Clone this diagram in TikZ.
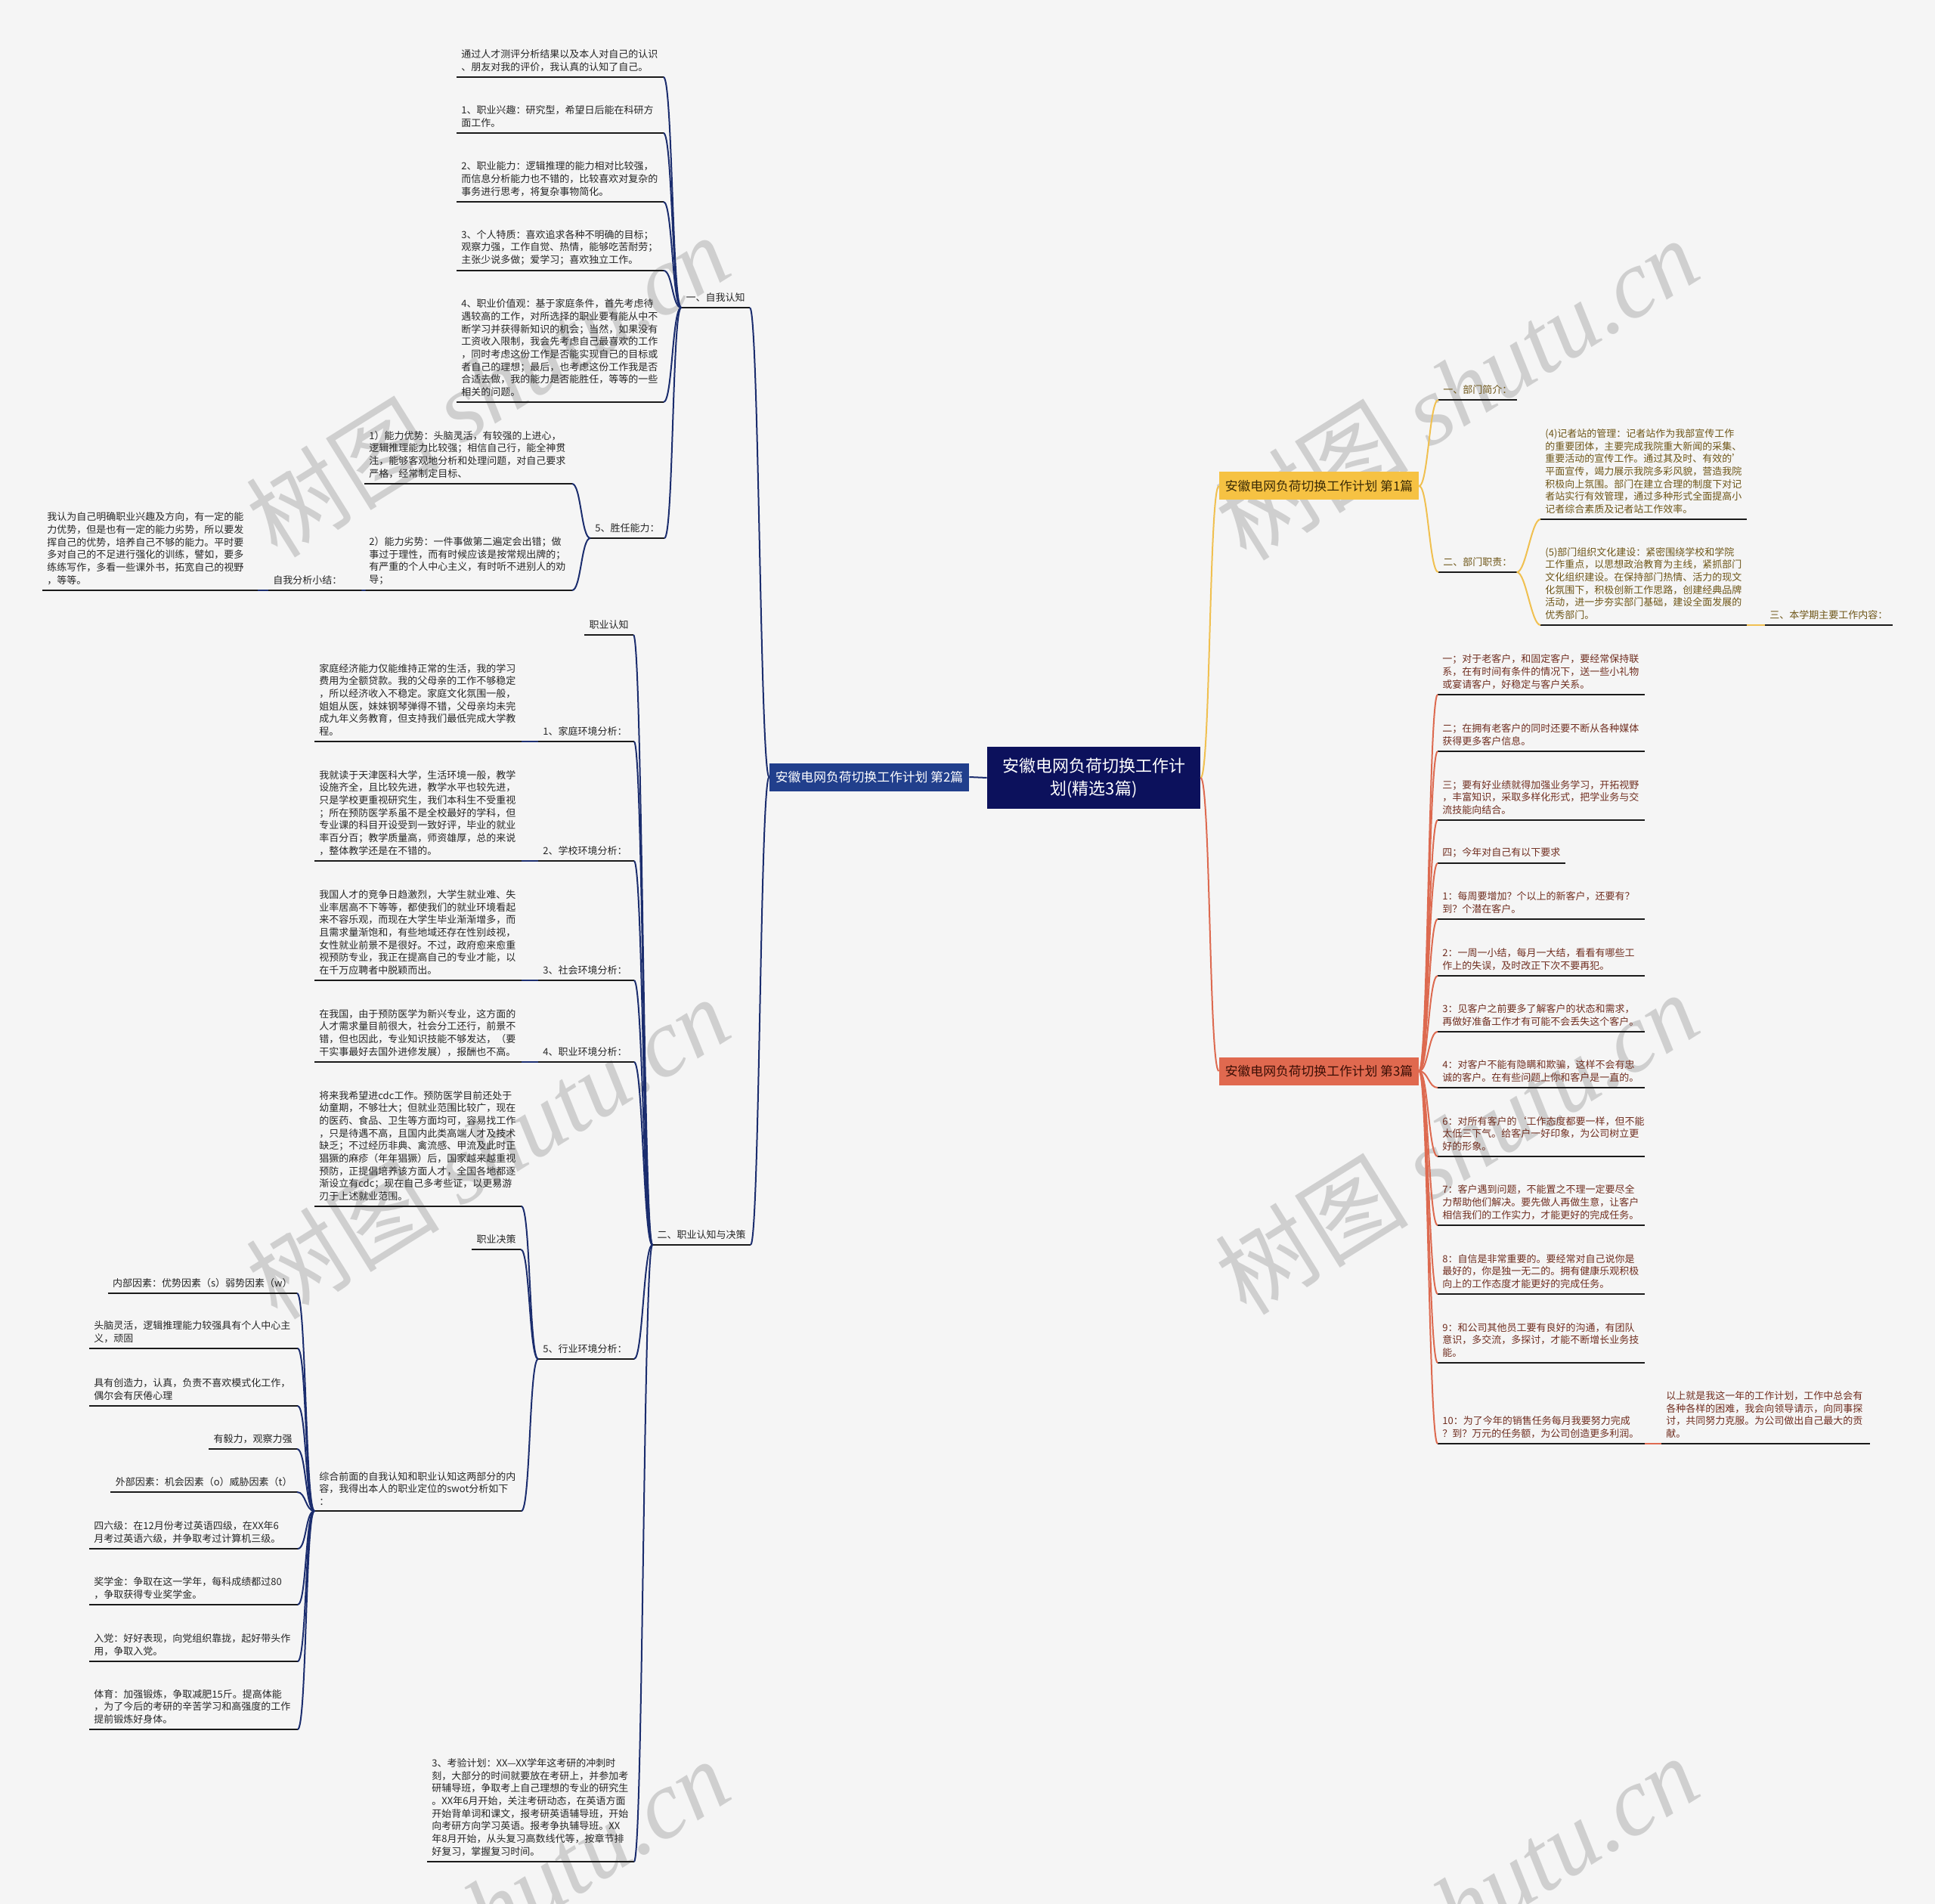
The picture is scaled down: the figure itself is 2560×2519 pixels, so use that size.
\documentclass[tikz,border=0pt]{standalone}
\usepackage{fontspec}
\setmainfont{Noto Sans CJK SC}
\newfontfamily\wmlatin{Liberation Serif}
\usetikzlibrary{calc}
\definecolor{bgc}{HTML}{F5F5F5}
\definecolor{ctr}{HTML}{0C115C}
\definecolor{blu}{HTML}{213F8C}
\definecolor{yelf}{HTML}{F6C243}
\definecolor{redf}{HTML}{E0694F}
\definecolor{navyl}{HTML}{1B2D6E}
\definecolor{yell}{HTML}{F0C050}
\definecolor{redl}{HTML}{DD6A50}
\definecolor{ulc}{HTML}{1A1A1A}
\definecolor{ltxt}{HTML}{262626}
\definecolor{ytxt}{HTML}{6E5618}
\definecolor{rtxt}{HTML}{702E20}
\definecolor{ytxtd}{HTML}{3A2A05}
\definecolor{rtxtd}{HTML}{3A0E05}
\definecolor{wmc}{HTML}{CFCFCF}
\newcommand\smallfs{\fontsize{6.5pt}{8.33pt}\selectfont}
\newcommand\lconn[2]{\draw[nv] (#1.south west) .. controls ($(#1.south west)+(-12,0)$) and ($(#2.south east)+(12,0)$) .. (#2.south east);}
\newcommand\rconn[3]{\draw[#1] (#2) .. controls ($(#2)+(12,0)$) and ($(#3.south west)+(-12,0)$) .. (#3.south west);}
\begin{document}
\begin{tikzpicture}[x=0.5pt,y=-0.5pt,
  leaf/.style={anchor=south west, inner xsep=3pt, inner ysep=3.5pt, align=left, font=\smallfs, text=ltxt, text width=#1},
  leaf/.default=130.5pt,
  labr/.style={anchor=south east, inner xsep=3pt, inner ysep=3.5pt, font=\smallfs, text=ltxt},
  labl/.style={anchor=south west, inner xsep=3pt, inner ysep=3.5pt, font=\smallfs},
  ul/.style={draw=ulc, line width=1.3pt},
  nv/.style={draw=navyl, line width=1pt},
  yl/.style={draw=yell, line width=1pt},
  rl/.style={draw=redl, line width=1pt},
  branch/.style={minimum width=132pt, minimum height=18.5pt, inner sep=0pt, font=\fontsize{8.4pt}{10pt}\selectfont},
  centre/.style={fill=ctr, text=white, minimum width=141pt, minimum height=41pt, inner sep=0pt, align=center, font=\fontsize{11pt}{15pt}\selectfont},
  wm/.style={text=wmc, font=\fontsize{64pt}{64pt}\selectfont, rotate=32, inner sep=0pt}
]
\fill[bgc] (0,0) rectangle (2560,2519);
\useasboundingbox (0,0) rectangle (2560,2519);
% watermark
\begin{scope}
\clip (0,0) rectangle (2560,2519);
\foreach \wx/\wy in {645/510, 1927/514, 645/1518, 1927/1512, 645/2526, 1927/2522}
  \node[wm] at (\wx,\wy) {树图 {\wmlatin\itshape shutu.cn}};
\end{scope}

% centre and branches
\node[centre] (C) at (1447,1029) {安徽电网负荷切换工作计\\划(精选3篇)};
\node[branch, fill=blu, text=white] (B2) at (1150,1028) {安徽电网负荷切换工作计划 第2篇};
\node[branch, fill=yelf, text=ytxtd] (B1) at (1745,643) {安徽电网负荷切换工作计划 第1篇};
\node[branch, fill=redf, text=rtxtd] (B3) at (1745,1417) {安徽电网负荷切换工作计划 第3篇};

% ---- left: 一、自我认知
\node[labr] (A0) at (992,407) {一、自我认知};
\node[leaf] (A1) at (604,102) {通过人才测评分析结果以及本人对自己的认识\\、朋友对我的评价，我认真的认知了自己。};
\node[leaf] (A2) at (604,176) {1、职业兴趣：研究型，希望日后能在科研方\\面工作。};
\node[leaf] (A3) at (604,267) {2、职业能力：逻辑推理的能力相对比较强，\\而信息分析能力也不错的，比较喜欢对复杂的\\事务进行思考，将复杂事物简化。};
\node[leaf] (A4) at (604,358) {3、个人特质：喜欢追求各种不明确的目标；\\观察力强，工作自觉、热情，能够吃苦耐劳；\\主张少说多做；爱学习；喜欢独立工作。};
\node[leaf] (A5) at (604,532) {4、职业价值观：基于家庭条件，首先考虑待\\遇较高的工作，对所选择的职业要有能从中不\\断学习并获得新知识的机会；当然，如果没有\\工资收入限制，我会先考虑自己最喜欢的工作\\，同时考虑这份工作是否能实现自己的目标或\\者自己的理想；最后，也考虑这份工作我是否\\合适去做，我的能力是否能胜任，等等的一些\\相关的问题。};
\node[labr] (A6) at (879,712) {5、胜任能力：};
\node[leaf=131pt] (A6a) at (482,640) {1）能力优势：头脑灵活，有较强的上进心，\\逻辑推理能力比较强；相信自己行，能全神贯\\注，能够客观地分析和处理问题，对自己要求\\严格，经常制定目标、};
\node[leaf=131pt] (A6b) at (482,781) {2）能力劣势：一件事做第二遍定会出错；做\\事过于理性，而有时候应该是按常规出牌的；\\有严重的个人中心主义，有时听不进别人的劝\\导；};
\node[leaf=56pt] (A6c) at (355,781) {自我分析小结：};
\node[leaf=136pt] (A6d) at (56,781) {我认为自己明确职业兴趣及方向，有一定的能\\力优势，但是也有一定的能力劣势，所以要发\\挥自己的优势，培养自己不够的能力。平时要\\多对自己的不足进行强化的训练，譬如，要多\\练练写作，多看一些课外书，拓宽自己的视野\\，等等。};

% ---- left: 二、职业认知与决策
\node[labr] (B0) at (993,1647) {二、职业认知与决策};
\node[labr] (B1n) at (838,840) {职业认知};
\node[leaf=57pt] (B2n) at (712,981) {1、家庭环境分析：};
\node[leaf] (B2a) at (416,981) {家庭经济能力仅能维持正常的生活，我的学习\\费用为全额贷款。我的父母亲的工作不够稳定\\，所以经济收入不稳定。家庭文化氛围一般，\\姐姐从医，妹妹钢琴弹得不错，父母亲均未完\\成九年义务教育，但支持我们最低完成大学教\\程。};
\node[leaf=57pt] (B3n) at (712,1139) {2、学校环境分析：};
\node[leaf] (B3a) at (416,1139) {我就读于天津医科大学，生活环境一般，教学\\设施齐全，且比较先进，教学水平也较先进，\\只是学校更重视研究生，我们本科生不受重视\\；所在预防医学系虽不是全校最好的学科，但\\专业课的科目开设受到一致好评，毕业的就业\\率百分百；教学质量高，师资雄厚，总的来说\\，整体教学还是在不错的。};
\node[leaf=57pt] (B4n) at (712,1297) {3、社会环境分析：};
\node[leaf] (B4a) at (416,1297) {我国人才的竞争日趋激烈，大学生就业难、失\\业率居高不下等等，都使我们的就业环境看起\\来不容乐观，而现在大学生毕业渐渐增多，而\\且需求量渐饱和，有些地域还存在性别歧视，\\女性就业前景不是很好。不过，政府愈来愈重\\视预防专业，我正在提高自己的专业才能，以\\在千万应聘者中脱颖而出。};
\node[leaf=57pt] (B5n) at (712,1405) {4、职业环境分析：};
\node[leaf] (B5a) at (416,1405) {在我国，由于预防医学为新兴专业，这方面的\\人才需求量目前很大，社会分工还行，前景不\\错，但也因此，专业知识技能不够发达，（要\\干实事最好去国外进修发展），报酬也不高。};
\node[leaf=57pt] (B6n) at (712,1798) {5、行业环境分析：};
\node[leaf] (B6a) at (416,1596) {将来我希望进cdc工作。预防医学目前还处于\\幼童期，不够壮大；但就业范围比较广，现在\\的医药、食品、卫生等方面均可，容易找工作\\，只是待遇不高，且国内此类高端人才及技术\\缺乏；不过经历非典、禽流感、甲流及此时正\\猖獗的麻疹（年年猖獗）后，国家越来越重视\\预防，正提倡培养该方面人才，全国各地都逐\\渐设立有cdc；现在自己多考些证，以更易游\\刃于上述就业范围。};
\node[labr] (B6b) at (689,1653) {职业决策};
\node[leaf] (B6c) at (416,1999) {综合前面的自我认知和职业认知这两部分的内\\容，我得出本人的职业定位的swot分析如下\\：};
\node[labr] (S1) at (393,1711) {内部因素：优势因素（s）弱势因素（w）};
\node[leaf=131.5pt] (S2) at (118,1784) {头脑灵活，逻辑推理能力较强具有个人中心主\\义，顽固};
\node[leaf=131.5pt] (S3) at (118,1860) {具有创造力，认真，负责不喜欢模式化工作，\\偶尔会有厌倦心理};
\node[labr] (S4) at (393,1917) {有毅力，观察力强};
\node[labr] (S5) at (393,1974) {外部因素：机会因素（o）威胁因素（t）};
\node[leaf=131.5pt] (S6) at (118,2049) {四六级：在12月份考过英语四级，在XX年6\\月考过英语六级，并争取考过计算机三级。};
\node[leaf=131.5pt] (S7) at (118,2123) {奖学金：争取在这一学年，每科成绩都过80\\，争取获得专业奖学金。};
\node[leaf=131.5pt] (S8) at (118,2198) {入党：好好表现，向党组织靠拢，起好带头作\\用，争取入党。};
\node[leaf=131.5pt] (S9) at (118,2288) {体育：加强锻炼，争取减肥15斤。提高体能\\，为了今后的考研的辛苦学习和高强度的工作\\提前锻炼好身体。};
\node[leaf] (B7) at (565,2463) {3、考验计划：XX—XX学年这考研的冲刺时\\刻，大部分的时间就要放在考研上，并参加考\\研辅导班，争取考上自己理想的专业的研究生\\。XX年6月开始，关注考研动态，在英语方面\\开始背单词和课文，报考研英语辅导班，开始\\向考研方向学习英语。报考争执辅导班。XX\\年8月开始，从头复习高数线代等，按章节排\\好复习，掌握复习时间。};

% ---- right: 第1篇
\node[labl, text=ytxt] (Y1) at (1903,529) {一、部门简介：};
\node[labl, text=ytxt] (Y2) at (1903,757) {二、部门职责：};
\node[leaf=130pt, text=ytxt] (Y2a) at (2038,687) {(4)记者站的管理：记者站作为我部宣传工作\\的重要团体，主要完成我院重大新闻的采集、\\重要活动的宣传工作。通过其及时、有效的'\\平面宣传，竭力展示我院多彩风貌，营造我院\\积极向上氛围。部门在建立合理的制度下对记\\者站实行有效管理，通过多种形式全面提高小\\记者综合素质及记者站工作效率。};
\node[leaf=130pt, text=ytxt] (Y2b) at (2038,827) {(5)部门组织文化建设：紧密围绕学校和学院\\工作重点，以思想政治教育为主线，紧抓部门\\文化组织建设。在保持部门热情、活力的现文\\化氛围下，积极创新工作思路，创建经典品牌\\活动，进一步夯实部门基础，建设全面发展的\\优秀部门。};
\node[labl, text=ytxt] (Y3) at (2335,827) {三、本学期主要工作内容：};

% ---- right: 第3篇
\node[leaf, text=rtxt] (R1) at (1902,919) {一；对于老客户，和固定客户，要经常保持联\\系，在有时间有条件的情况下，送一些小礼物\\或宴请客户，好稳定与客户关系。};
\node[leaf, text=rtxt] (R2) at (1902,994) {二；在拥有老客户的同时还要不断从各种媒体\\获得更多客户信息。};
\node[leaf, text=rtxt] (R3) at (1902,1085) {三；要有好业绩就得加强业务学习，开拓视野\\，丰富知识，采取多样化形式，把学业务与交\\流技能向结合。};
\node[labl, text=rtxt] (R4) at (1902,1142) {四；今年对自己有以下要求};
\node[leaf, text=rtxt] (R5) at (1902,1216) {1：每周要增加？个以上的新客户，还要有？\\到？个潜在客户。};
\node[leaf, text=rtxt] (R6) at (1902,1291) {2：一周一小结，每月一大结，看看有哪些工\\作上的失误，及时改正下次不要再犯。};
\node[leaf, text=rtxt] (R7) at (1902,1365) {3：见客户之前要多了解客户的状态和需求，\\再做好准备工作才有可能不会丢失这个客户。};
\node[leaf, text=rtxt] (R8) at (1902,1439) {4：对客户不能有隐瞒和欺骗，这样不会有忠\\诚的客户。在有些问题上你和客户是一直的。};
\node[leaf, text=rtxt] (R9) at (1902,1530) {6：对所有客户的`工作态度都要一样，但不能\\太低三下气。给客户一好印象，为公司树立更\\好的形象。};
\node[leaf, text=rtxt] (R10) at (1902,1621) {7：客户遇到问题，不能置之不理一定要尽全\\力帮助他们解决。要先做人再做生意，让客户\\相信我们的工作实力，才能更好的完成任务。};
\node[leaf, text=rtxt] (R11) at (1902,1712) {8：自信是非常重要的。要经常对自己说你是\\最好的，你是独一无二的。拥有健康乐观积极\\向上的工作态度才能更好的完成任务。};
\node[leaf, text=rtxt] (R12) at (1902,1803) {9：和公司其他员工要有良好的沟通，有团队\\意识，多交流，多探讨，才能不断增长业务技\\能。};
\node[leaf, text=rtxt] (R13) at (1902,1910) {10：为了今年的销售任务每月我要努力完成\\？到？万元的任务额，为公司创造更多利润。};
\node[leaf=131.5pt, text=rtxt] (R14) at (2198,1910) {以上就是我这一年的工作计划，工作中总会有\\各种各样的困难，我会向领导请示，向同事探\\讨，共同努力克服。为公司做出自己最大的贡\\献。};

% ---- underlines
\foreach \n in {A0,A1,A2,A3,A4,A5,A6,A6a,A6b,A6c,A6d,B0,B1n,B2n,B2a,B3n,B3a,B4n,B4a,B5n,B5a,B6n,B6a,B6b,B6c,S1,S2,S3,S4,S5,S6,S7,S8,S9,B7,Y1,Y2,Y2a,Y2b,Y3,R1,R2,R3,R4,R5,R6,R7,R8,R9,R10,R11,R12,R13,R14}
  \draw[ul] (\n.south west) -- (\n.south east);

% ---- connectors, left
\draw[nv] (C.west) -- (B2.east);
\draw[nv] (B2.west) .. controls ($(B2.west)+(-12,0)$) and ($(A0.south east)+(12,0)$) .. (A0.south east);
\draw[nv] (B2.west) .. controls ($(B2.west)+(-12,0)$) and ($(B0.south east)+(12,0)$) .. (B0.south east);
\foreach \c in {A1,A2,A3,A4,A5,A6} {\lconn{A0}{\c}}
\lconn{A6}{A6a}
\lconn{A6}{A6b}
\lconn{A6b}{A6c}
\lconn{A6c}{A6d}
\foreach \c in {B1n,B2n,B3n,B4n,B5n,B6n,B7} {\lconn{B0}{\c}}
\lconn{B2n}{B2a}
\lconn{B3n}{B3a}
\lconn{B4n}{B4a}
\lconn{B5n}{B5a}
\lconn{B6n}{B6a}
\lconn{B6n}{B6b}
\lconn{B6n}{B6c}
\foreach \c in {S1,S2,S3,S4,S5,S6,S7,S8,S9} {\lconn{B6c}{\c}}

% ---- connectors, right
\draw[yl] (C.east) .. controls ($(C.east)+(13,0)$) and ($(B1.west)+(-13,0)$) .. (B1.west);
\draw[rl] (C.east) .. controls ($(C.east)+(13,0)$) and ($(B3.west)+(-13,0)$) .. (B3.west);
\rconn{yl}{B1.east}{Y1}
\rconn{yl}{B1.east}{Y2}
\rconn{yl}{Y2.south east}{Y2a}
\rconn{yl}{Y2.south east}{Y2b}
\rconn{yl}{Y2b.south east}{Y3}
\foreach \c in {R1,R2,R3,R4,R5,R6,R7,R8,R9,R10,R11,R12,R13} {\rconn{rl}{B3.east}{\c}}
\rconn{rl}{R13.south east}{R14}
\end{tikzpicture}
\end{document}
